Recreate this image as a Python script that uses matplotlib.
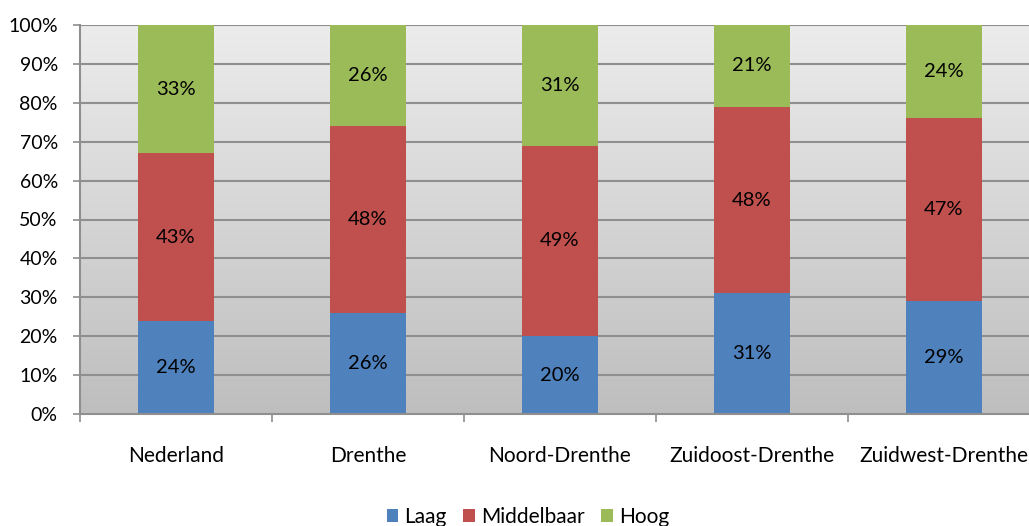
import numpy as np
import matplotlib
matplotlib.use("Agg")
import matplotlib.pyplot as plt
from matplotlib.ticker import FuncFormatter, MultipleLocator, FixedLocator
from matplotlib.patches import Patch

plt.rcParams['font.family'] = ['Lato', 'DejaVu Sans']

regions = ["Nederland", "Drenthe", "Noord-Drenthe", "Zuidoost-Drenthe", "Zuidwest-Drenthe"]
laag = [24, 26, 20, 31, 29]
middelbaar = [43, 48, 49, 48, 47]
hoog = [33, 26, 31, 21, 24]
series_names = ["Laag", "Middelbaar", "Hoog"]
colors = ["#4f81bd", "#c0504d", "#9bbb59"]

W, H = 1029, 526
fig = plt.figure(figsize=(W / 100, H / 100), dpi=100)
fig.patch.set_facecolor("white")

ax = fig.add_axes([80 / W, 1 - 414 / H, 960 / W, 389 / H])
ax.set_xlim(-0.5, len(regions) - 0.5)
ax.set_ylim(0, 100)

# vertical gray gradient for the plot area
grad = np.linspace(0, 1, 256).reshape(-1, 1)
cmap = matplotlib.colors.LinearSegmentedColormap.from_list("bg", ["#bebebe", "#ececec"])
ax.imshow(grad, extent=(-0.5, len(regions) - 0.5, 0, 100), origin="lower",
          aspect="auto", cmap=cmap, zorder=0)
ax.set_facecolor("none")

for y in range(10, 101, 10):
    ax.axhline(y, color="#8f8f8f", lw=1.5, zorder=1)

x = np.arange(len(regions))
bottom = np.zeros(len(regions))
for vals, name, col in zip([laag, middelbaar, hoog], series_names, colors):
    vals = np.array(vals, dtype=float)
    ax.bar(x, vals, width=0.4, bottom=bottom, color=col, label=name, zorder=2)
    for xi, b, v in zip(x, bottom, vals):
        ax.text(xi, b + v / 2, f"{int(v)}%", ha="center", va="center",
                fontsize=14.5, color="black", zorder=3)
    bottom += vals

for s in ["top", "right"]:
    ax.spines[s].set_visible(False)
ax.spines["left"].set_color("#8f8f8f")
ax.spines["left"].set_linewidth(1.5)
ax.spines["bottom"].set_color("#8f8f8f")
ax.spines["bottom"].set_linewidth(1.5)

ax.yaxis.set_major_locator(MultipleLocator(10))
ax.yaxis.set_major_formatter(FuncFormatter(lambda v, p: f"{int(v)}%"))
ax.tick_params(axis="y", length=5, width=1.2, color="#8f8f8f", pad=11, labelsize=14)

ax.set_xticks(x)
ax.set_xticklabels(regions)
ax.tick_params(axis="x", which="major", length=0, pad=23, labelsize=15)
ax.xaxis.set_minor_locator(FixedLocator(np.arange(-0.5, len(regions), 1.0)))
ax.tick_params(axis="x", which="minor", length=6, width=1.2, color="#8f8f8f")

handles = [Patch(facecolor=c, label=n) for c, n in zip(colors, series_names)]
fig.legend(handles=handles, loc="center", bbox_to_anchor=(528 / W, 1 - 517 / H),
           ncol=3, frameon=False, fontsize=15, handlelength=0.55, handleheight=0.55,
           handletextpad=0.3, columnspacing=0.8)

fig.savefig("out.png", dpi=100)
